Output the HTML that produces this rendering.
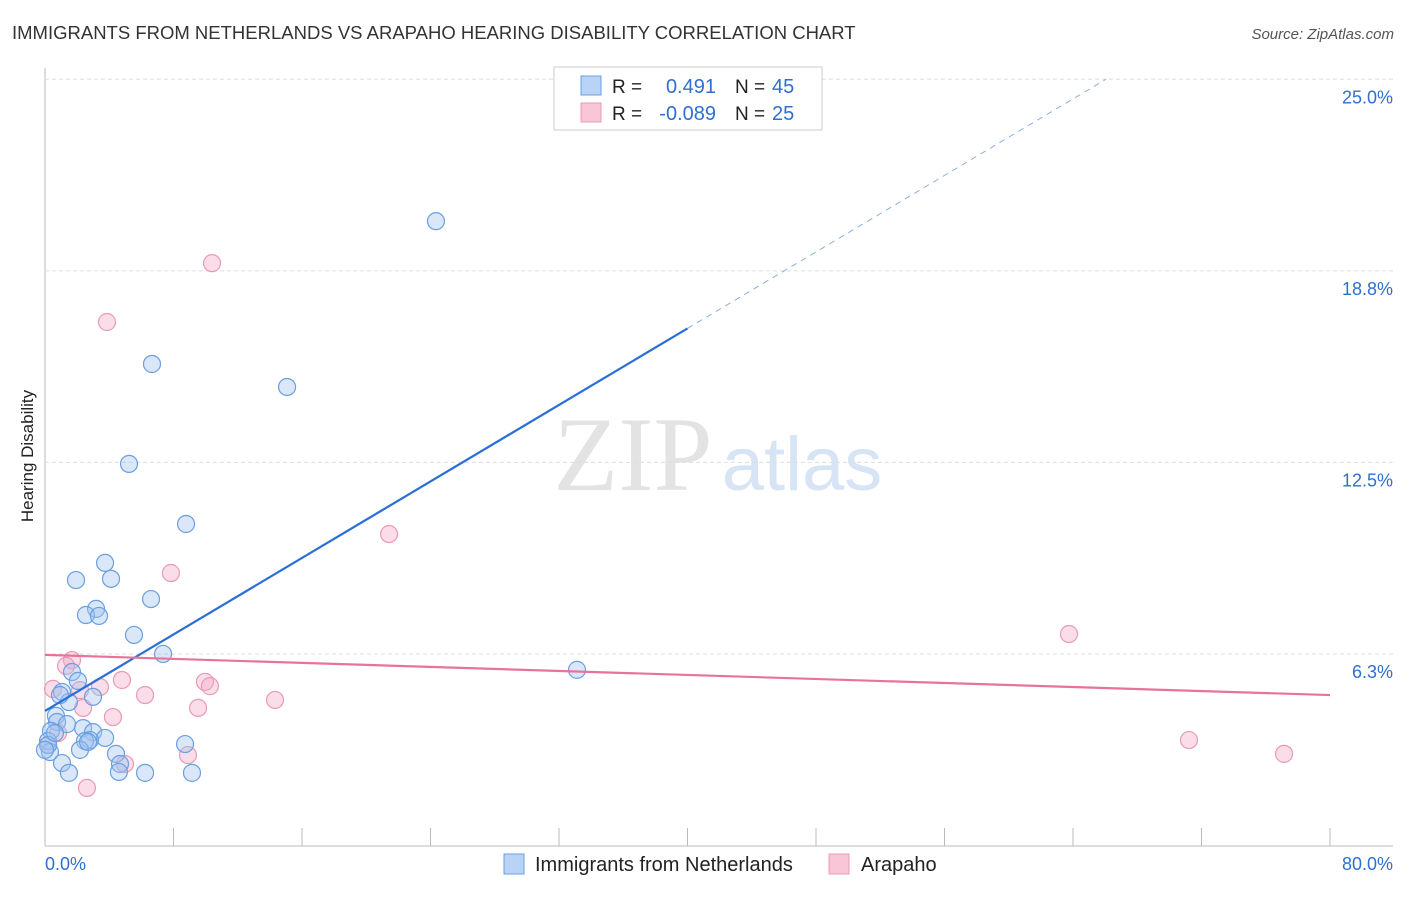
<!DOCTYPE html>
<html><head><meta charset="utf-8"><style>
body{margin:0;background:#fff;font-family:"Liberation Sans",sans-serif;}
</style></head><body>
<svg width="1406" height="892" xmlns="http://www.w3.org/2000/svg" id="chart">
<text x="12" y="39" font-size="18.5" fill="#333">IMMIGRANTS FROM NETHERLANDS VS ARAPAHO HEARING DISABILITY CORRELATION CHART</text>
<text x="1394" y="39" font-size="15" fill="#555" font-style="italic" text-anchor="end">Source: ZipAtlas.com</text>
<text x="33" y="456" font-size="17" fill="#222" text-anchor="middle" transform="rotate(-90 33 456)">Hearing Disability</text>
<g><text x="633" y="490" font-size="106" font-family="Liberation Serif,serif" fill="#e3e3e3" text-anchor="middle">ZIP</text><text x="802" y="490" font-size="76" fill="#d6e4f5" text-anchor="middle">atlas</text></g>
<g id="grid"></g><g id="marks"></g>
<g>
<rect x="554" y="67" width="268" height="63" fill="#fff" stroke="#ccc"/>
<rect x="581" y="76" width="20" height="19" fill="#b8d3f5" stroke="#6a9fe0"/>
<rect x="581" y="103" width="20" height="19" fill="#f8c6d7" stroke="#e89ab6"/>
<text x="612" y="93" font-size="19" fill="#222">R =</text><text x="716" y="93" font-size="20" fill="#2f6fd0" text-anchor="end">0.491</text>
<text x="735" y="93" font-size="19" fill="#222">N =</text><text x="772" y="93" font-size="20" fill="#2f6fd0">45</text>
<text x="612" y="120" font-size="19" fill="#222">R =</text><text x="716" y="120" font-size="20" fill="#2f6fd0" text-anchor="end">-0.089</text>
<text x="735" y="120" font-size="19" fill="#222">N =</text><text x="772" y="120" font-size="20" fill="#2f6fd0">25</text>
</g>
<g>
<rect x="504" y="854" width="20" height="20" fill="#b8d3f5" stroke="#6a9fe0"/>
<text x="535" y="871" font-size="20" fill="#222">Immigrants from Netherlands</text>
<rect x="829" y="854" width="20" height="20" fill="#f8c6d7" stroke="#e89ab6"/>
<text x="861" y="871" font-size="20" fill="#222">Arapaho</text>
</g>
</svg>
<script>
const yTicks=[6.25,12.5,18.75,25];
const yTickLabels=["6.3%","12.5%","18.8%","25.0%"];
const xTicks=[0,8,16,24,32,40,48,56,64,72,80];
const blueX=[24.34,6.66,15.07,5.23,8.78,3.74,1.93,4.11,6.60,3.18,2.55,3.36,5.54,7.35,33.12,1.68,2.05,1.06,2.99,1.49,0.68,0.75,1.37,2.37,0.37,2.99,3.74,2.80,2.49,0.19,8.72,2.18,0.31,4.42,1.06,4.67,1.49,6.23,9.15,0.93,2.68,0.19,0.0,0.62,4.6];
const blueY=[20.37,15.71,14.96,12.45,10.49,9.22,8.66,8.70,8.04,7.72,7.52,7.49,6.87,6.25,5.73,5.66,5.37,5.01,4.85,4.68,4.23,4.03,3.96,3.83,3.74,3.70,3.51,3.44,3.41,3.41,3.31,3.12,3.05,2.99,2.69,2.66,2.37,2.37,2.37,4.91,3.38,3.28,3.12,3.67,2.4];
const pinkX=[10.40,3.86,21.42,7.84,63.75,1.68,1.31,4.79,9.96,10.27,3.42,0.50,2.18,6.23,14.32,9.53,2.37,4.23,0.81,71.22,8.90,77.14,4.98,2.61,0.19];
const pinkY=[19.00,17.08,10.16,8.89,6.90,6.05,5.86,5.40,5.34,5.20,5.17,5.11,5.07,4.91,4.75,4.49,4.49,4.19,3.67,3.44,2.95,2.99,2.66,1.88,3.28];
const blueTrend=[4.39,0.312]; const pinkTrend=[6.22,-0.0164];
const X=v=>45+v/80*1285, Y=v=>845.5-v*30.65;
const NS="http://www.w3.org/2000/svg";
function mk(t,a,p){const e=document.createElementNS(NS,t);for(const k in a)e.setAttribute(k,a[k]);p.appendChild(e);return e;}
const g=document.getElementById('grid'), m=document.getElementById('marks');
let ax=mk('line',{x1:45,y1:68,x2:45,y2:846,stroke:'#bbb'},g);


let bx=mk('line',{x1:45,y1:846,x2:1393,y2:846,stroke:'#bbb'},g);


yTicks.forEach((v,i)=>{mk('line',{x1:45,y1:Y(v),x2:1393,y2:Y(v),stroke:'#ddd','stroke-dasharray':'4 3'},g);
const t=mk('text',{x:1393,y:Y(v)+24,'font-size':18,fill:'#2f6fd0','text-anchor':'end'},g);t.textContent=yTickLabels[i];

});
xTicks.forEach(v=>{mk('line',{x1:X(v),y1:828,x2:X(v),y2:846,stroke:'#bbb'},g);});
let t0=mk('text',{x:45,y:870,'font-size':18,fill:'#2f6fd0'},g);t0.textContent='0.0%';


let t1=mk('text',{x:1393,y:870,'font-size':18,fill:'#2f6fd0','text-anchor':'end'},g);t1.textContent='80.0%';


pinkX.forEach((v,i)=>{const c=mk('circle',{cx:X(v),cy:Y(pinkY[i]),r:8.5,fill:'rgba(244,170,200,0.4)',stroke:'#e89ab6','stroke-width':1.2},m);

});
blueX.forEach((v,i)=>{const c=mk('circle',{cx:X(v),cy:Y(blueY[i]),r:8.5,fill:'rgba(160,196,240,0.4)',stroke:'#6a9fe0','stroke-width':1.2},m);

});
const bt=x=>blueTrend[0]+blueTrend[1]*x, pt=x=>pinkTrend[0]+pinkTrend[1]*x;
const xe=(25-blueTrend[0])/blueTrend[1];
let l1=mk('line',{x1:X(0),y1:Y(bt(0)),x2:X(40),y2:Y(bt(40)),stroke:'#2a6fd6','stroke-width':2.2},m);


let l2=mk('line',{x1:X(40),y1:Y(bt(40)),x2:X(xe),y2:Y(25),stroke:'#8ab0e0','stroke-width':1,'stroke-dasharray':'6 5'},m);


let l3=mk('line',{x1:X(0),y1:Y(pt(0)),x2:X(80),y2:Y(pt(80)),stroke:'#e8739a','stroke-width':2.2},m);


</script>
</body></html>
